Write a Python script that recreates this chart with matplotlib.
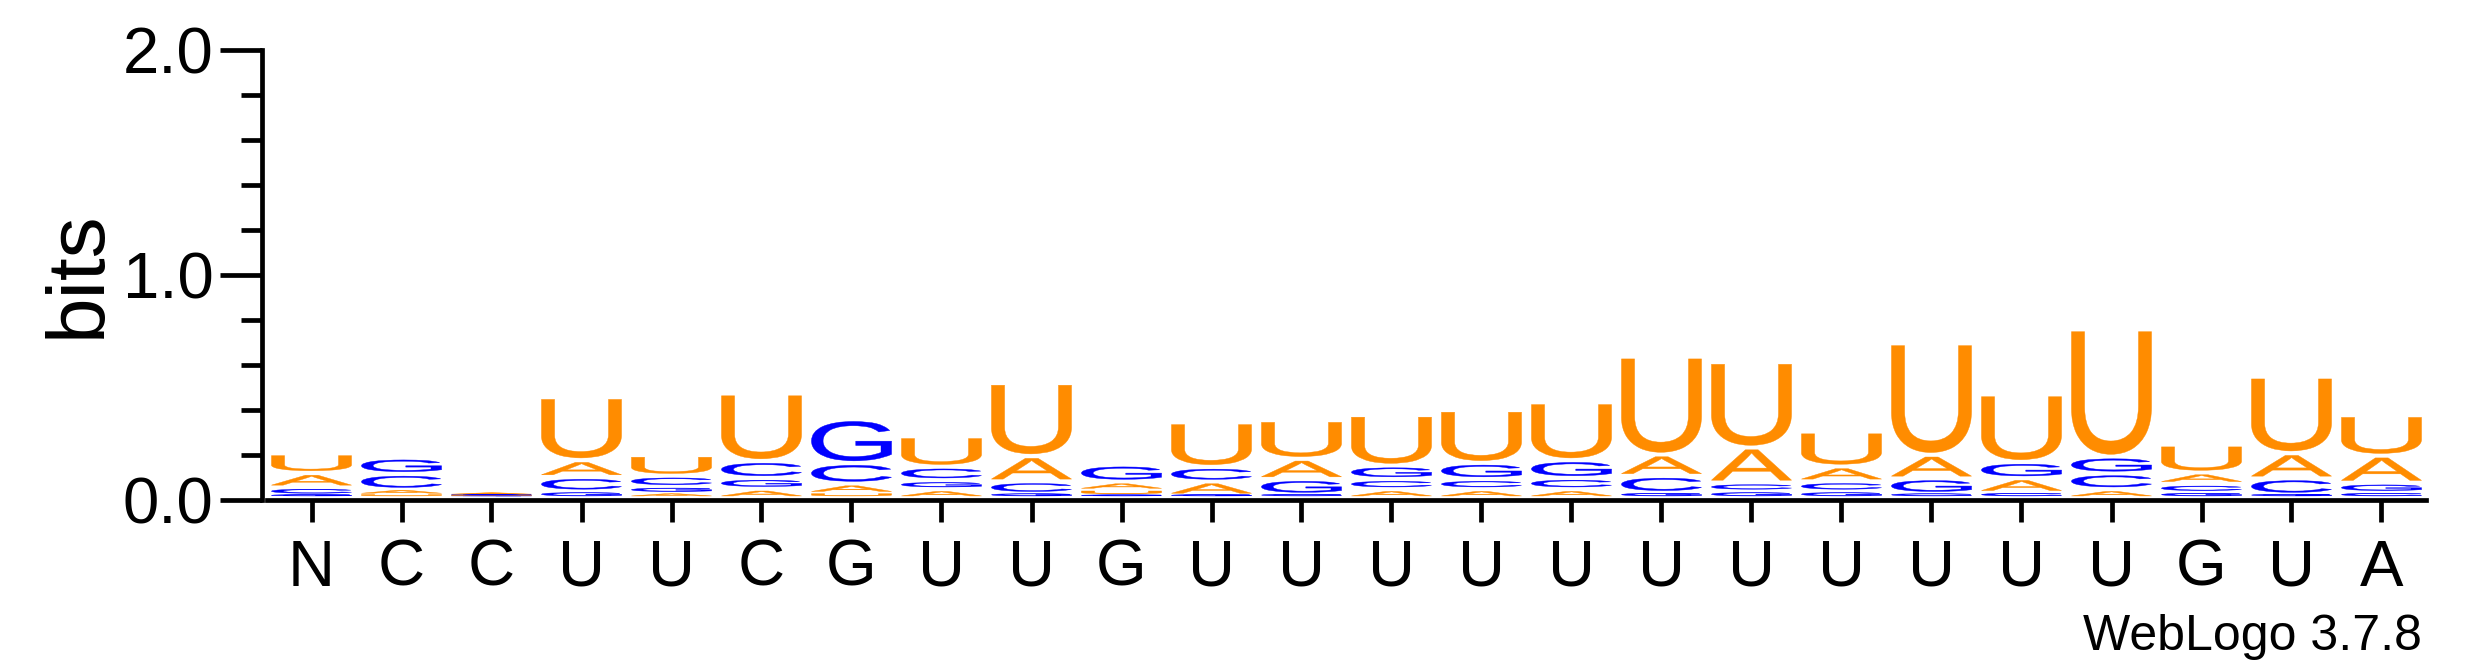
import matplotlib
matplotlib.use("Agg")
import matplotlib.pyplot as plt
from matplotlib.textpath import TextPath
from matplotlib.patches import PathPatch
from matplotlib.font_manager import FontProperties
from matplotlib.transforms import Affine2D
from matplotlib.ticker import MultipleLocator, FixedLocator

# ---- data (bits per letter, per position) ----
tick_labels = ["N", "C", "C", "U", "U", "C", "G", "U", "U", "G", "U", "U",
               "U", "U", "U", "U", "U", "U", "U", "U", "U", "G", "U", "A"]
A_bits = [0.044, 0.013, 0.006, 0.055, 0.010, 0.022, 0.025, 0.020, 0.092, 0.020, 0.042, 0.070,
          0.020, 0.020, 0.020, 0.075, 0.135, 0.046, 0.085, 0.045, 0.020, 0.030, 0.092, 0.100]
C_bits = [0.018, 0.050, 0.002, 0.044, 0.030, 0.055, 0.071, 0.040, 0.035, 0.005, 0.045, 0.008,
          0.025, 0.025, 0.030, 0.055, 0.020, 0.025, 0.010, 0.012, 0.050, 0.020, 0.052, 0.012]
G_bits = [0.006, 0.052, 0.001, 0.015, 0.015, 0.028, 0.175, 0.020, 0.010, 0.055, 0.006, 0.049,
          0.040, 0.052, 0.059, 0.012, 0.015, 0.015, 0.048, 0.052, 0.055, 0.012, 0.008, 0.025]
U_bits = [0.067, 0.006, 0.001, 0.260, 0.072, 0.280, 0.010, 0.115, 0.305, 0.012, 0.178, 0.152,
          0.205, 0.215, 0.237, 0.415, 0.360, 0.135, 0.475, 0.280, 0.545, 0.104, 0.320, 0.160]
colors = {"A": "#FF8C00", "U": "#FF8C00", "C": "#0000FF", "G": "#0000FF"}

y_major = [0.0, 1.0, 2.0]
y_major_labels = ["0.0", "1.0", "2.0"]

FONT = "Liberation Sans"
BASE = 0.018
GAP = 0.02
GLYPH_W = 0.89

fig = plt.figure(figsize=(24.75, 6.67), dpi=100)
ax = fig.add_axes([262 / 2475, 167 / 667, 24.05 * 90 / 2475, 450 / 667])
ax.set_xlim(0.45, 24.5)
ax.set_ylim(0, 2.0)

fp = FontProperties(family=FONT)
series = {"A": A_bits, "C": C_bits, "G": G_bits, "U": U_bits}
for i in range(len(tick_labels)):
    xc = i + 1
    col = sorted(((series[k][i], k) for k in "ACGU"), key=lambda t: t[0])
    y = BASE
    for h, letter in col:
        if h <= 0:
            continue
        tp = TextPath((0, 0), letter, size=1, prop=fp)
        bb = tp.get_extents()
        tr = (Affine2D().translate(-bb.x0, -bb.y0)
              .scale(GLYPH_W / bb.width, h / bb.height)
              .translate(xc - GLYPH_W / 2, y))
        p = tr.transform_path(tp)
        ax.add_patch(PathPatch(p, facecolor=colors[letter], edgecolor=colors[letter],
                               lw=0.3, zorder=2))
        y += h + min(GAP, h)

# axes styling
for s in ["top", "right"]:
    ax.spines[s].set_visible(False)
lw = 3.4
ax.spines["left"].set_linewidth(lw)
ax.spines["bottom"].set_linewidth(lw)
ax.spines["left"].set_bounds(0, 2)
ax.spines["bottom"].set_bounds(0.5, 24.5)

ax.yaxis.set_major_locator(FixedLocator(y_major))
ax.set_yticklabels(y_major_labels)
ax.yaxis.set_minor_locator(MultipleLocator(0.2))
ax.tick_params(axis="y", which="major", length=30, width=lw, pad=5,
               labelsize=47, direction="out")
ax.tick_params(axis="y", which="minor", length=15, width=lw, direction="out")
ax.set_xticks(range(1, len(tick_labels) + 1))
ax.set_xticklabels(tick_labels)
ax.tick_params(axis="x", which="major", length=16, width=lw, pad=12,
               labelsize=47, direction="out")
for lab in ax.get_xticklabels() + ax.get_yticklabels():
    lab.set_fontfamily(FONT)

fig.text(100 / 2475, 1 - 274 / 667, "bits", rotation=90, rotation_mode="anchor",
         ha="center", va="baseline", fontsize=59, family=FONT)
fig.text(2422 / 2475, 1 - 650 / 667, "WebLogo 3.7.8", ha="right", va="baseline",
         fontsize=36, family=FONT)

fig.savefig("out.png", dpi=100, facecolor="white")
